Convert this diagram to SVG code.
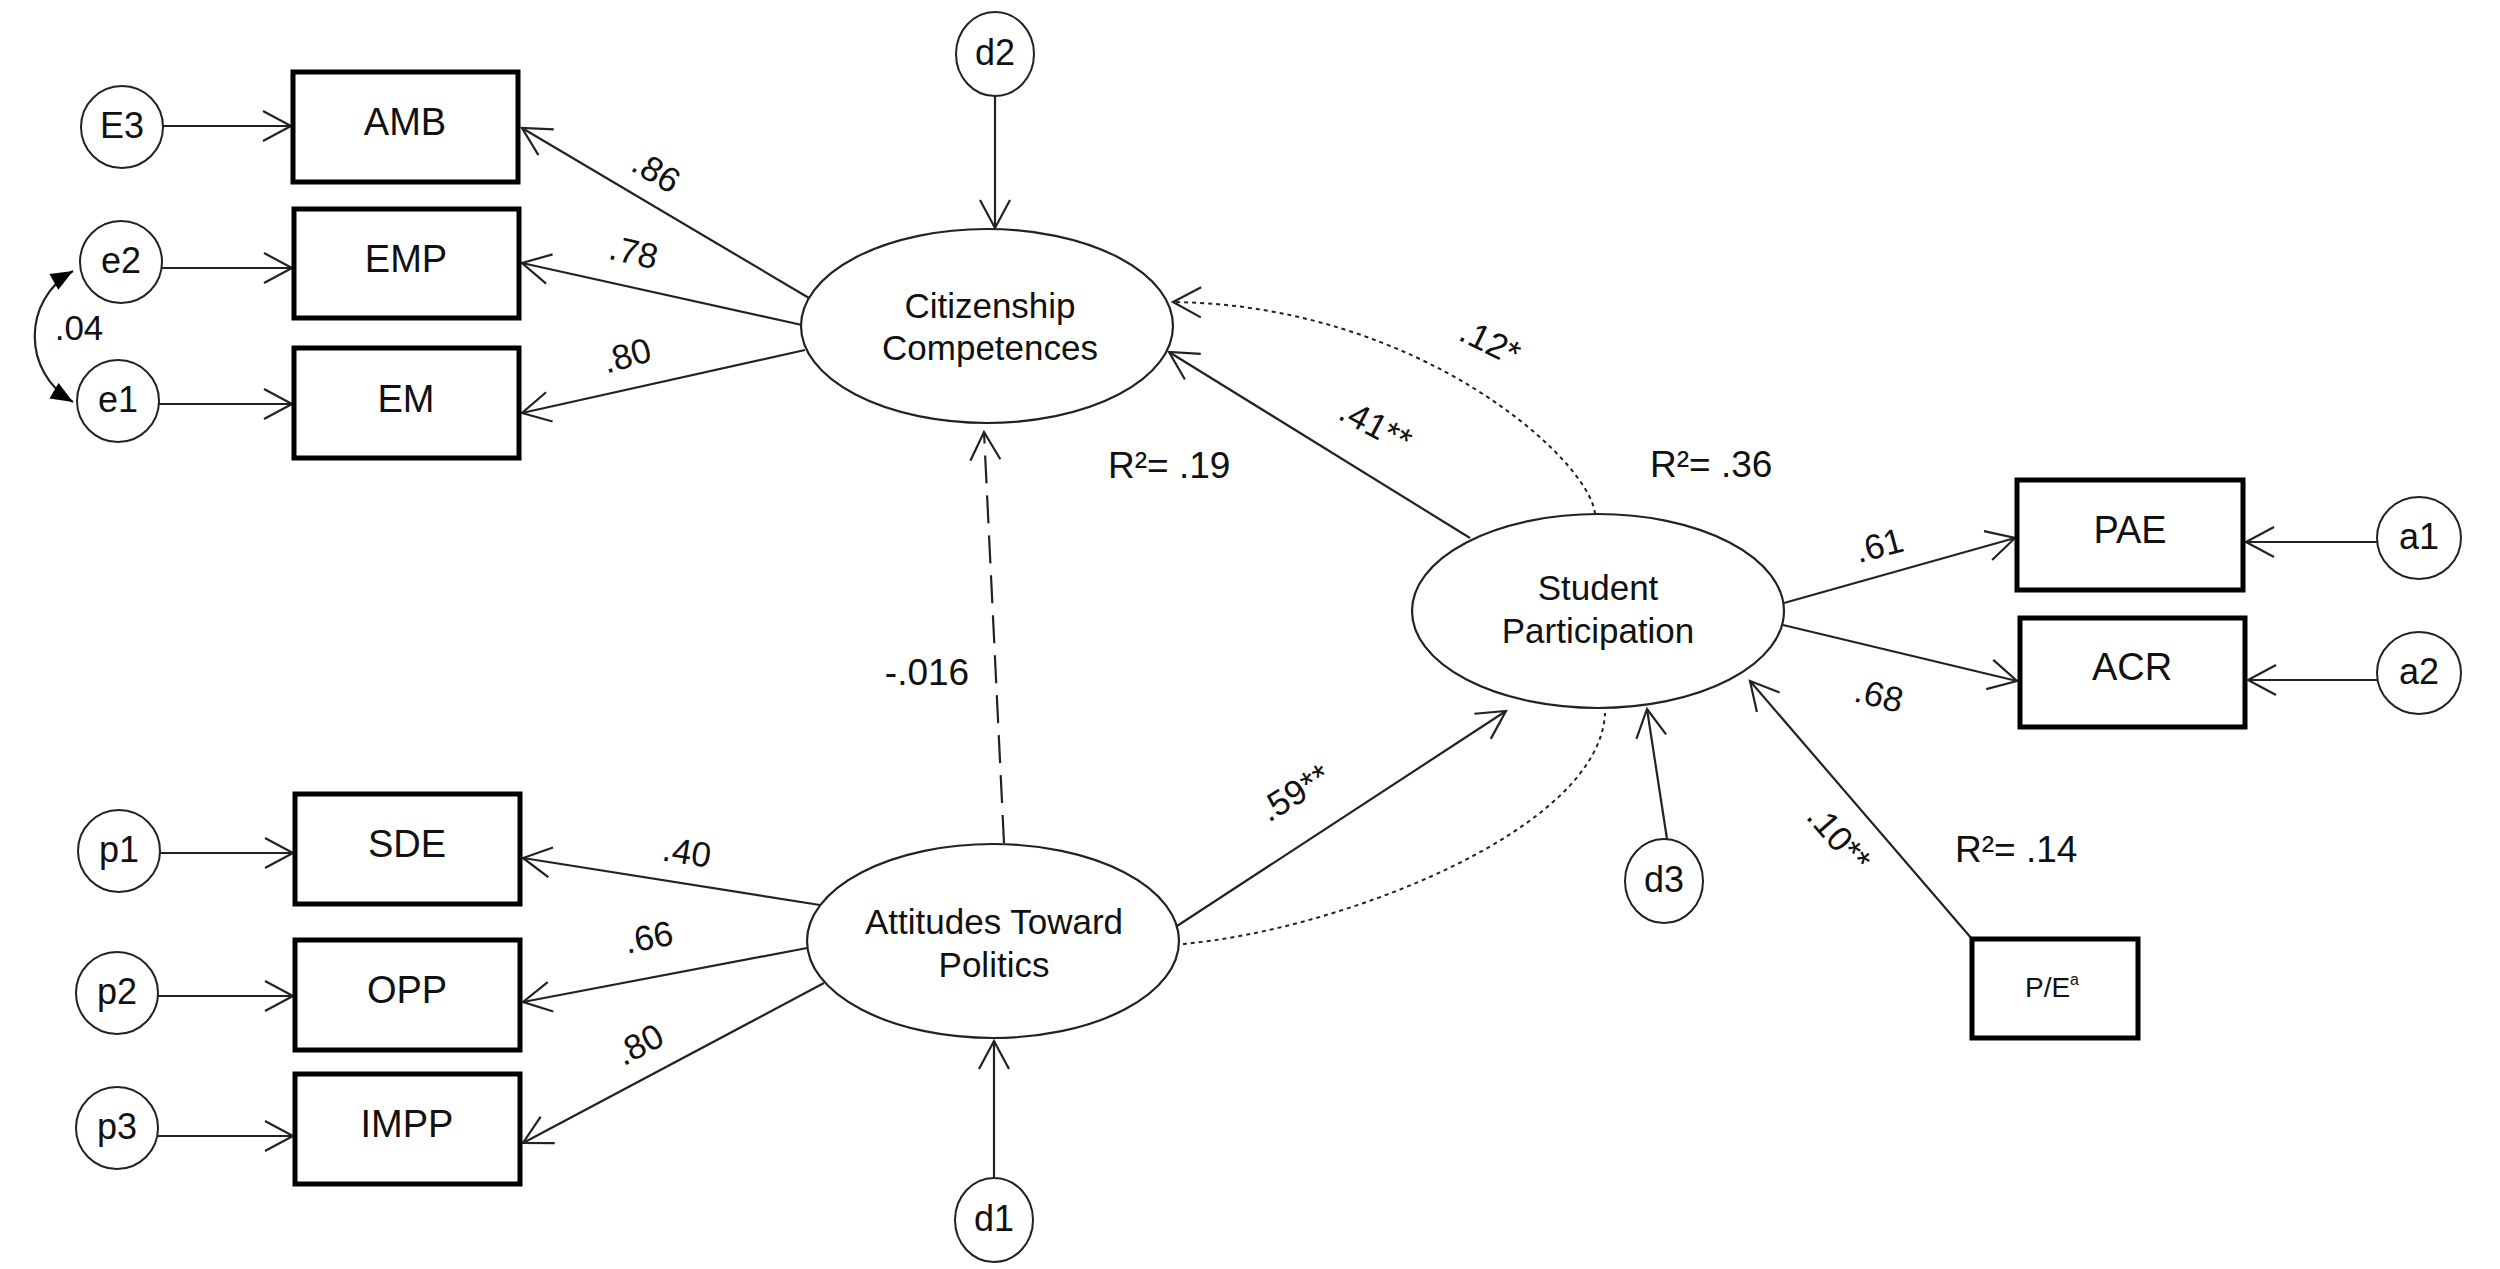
<svg xmlns="http://www.w3.org/2000/svg" width="2500" height="1269" viewBox="0 0 2500 1269">
<style>
text{font-family:"Liberation Sans",Arial,sans-serif;fill:#111;}
.box{fill:#fff;stroke:#000;stroke-width:5;}
.lat{fill:#fff;stroke:#222;stroke-width:2.2;}
.err{fill:#fff;stroke:#222;stroke-width:2;}
.lbl{font-size:38px;text-anchor:middle;}
.elbl{font-size:36px;text-anchor:middle;}
.ltxt{font-size:35px;text-anchor:middle;}
.coef{font-size:35px;text-anchor:middle;}
.r2{font-size:37px;}
.ln{fill:none;stroke:#222;stroke-width:2.2;}
.arr{marker-end:url(#open);}
.dash{stroke-dasharray:28 12;}
.dot{stroke-dasharray:4 4;stroke-width:2;}
</style>
<defs>
<marker id="open" viewBox="-34 -20 38 40" refX="0" refY="0" markerWidth="38" markerHeight="40" markerUnits="userSpaceOnUse" orient="auto">
<path d="M-28,-15 L0,0 L-28,15" fill="none" stroke="#222" stroke-width="2.2"/>
</marker>
<marker id="fill" viewBox="-26 -12 28 24" refX="0" refY="0" markerWidth="28" markerHeight="24" markerUnits="userSpaceOnUse" orient="auto-start-reverse">
<path d="M-22,-9 L0,0 L-22,9 Z" fill="#000"/>
</marker>
</defs>
<rect width="2500" height="1269" fill="#fff"/>

<g id="connectors">
<path class="ln arr" d="M163,126 L291,126"/>
<path class="ln arr" d="M162,268 L292,268"/>
<path class="ln arr" d="M159,404 L292,404"/>
<path class="ln arr" d="M160,853 L293,853"/>
<path class="ln arr" d="M158,996 L293,996"/>
<path class="ln arr" d="M158,1136 L293,1136"/>
<path class="ln arr" d="M2377,542 L2246,542"/>
<path class="ln arr" d="M2377,680 L2248,680"/>
<path class="ln arr" d="M995,96 L995,228"/>
<path class="ln arr" d="M994,1178 L994,1041"/>
<path class="ln arr" d="M1667,839 L1647,709"/>
<path class="ln arr" d="M809,298 L522,128"/>
<path class="ln arr" d="M802,325 L522,263"/>
<path class="ln arr" d="M805,350 L522,413"/>
<path class="ln arr" d="M820,905 L523,858"/>
<path class="ln arr" d="M807,948 L523,1002"/>
<path class="ln arr" d="M824,983 L523,1143"/>
<path class="ln arr" d="M1470,538 L1169,352"/>
<path class="ln arr dot" d="M1595,514 C1590,460 1420,305 1173,302"/>
<path class="ln arr" d="M1177,926 L1506,711"/>
<path class="ln dot" d="M1183,944 C1340,930 1600,830 1605,713"/>
<path class="ln arr" d="M1784,603 L2015,538"/>
<path class="ln arr" d="M1783,625 L2017,681"/>
<path class="ln arr" d="M1972,939 L1750,681"/>
<path class="ln arr dash" d="M1004,843 L984,432"/>
<path class="ln" d="M73,271 C22,300 22,372 73,402" marker-start="url(#fill)" marker-end="url(#fill)"/>
</g>

<g id="labels">
<text class="coef" transform="translate(650,182) rotate(31)">.86</text>
<text class="coef" transform="translate(631,264) rotate(13)">.78</text>
<text class="coef" transform="translate(630,367) rotate(-16)">.80</text>
<text class="coef" transform="translate(685,864) rotate(9)">.40</text>
<text class="coef" transform="translate(651,949) rotate(-11)">.66</text>
<text class="coef" transform="translate(645,1055) rotate(-28)">.80</text>
<text class="coef" transform="translate(1301,803) rotate(-32)">.59**</text>
<text class="coef" transform="translate(1370,436) rotate(28)">.41**</text>
<text class="coef" transform="translate(1485,353) rotate(26)">.12*</text>
<text class="coef" transform="translate(1882,557) rotate(-15)">.61</text>
<text class="coef" transform="translate(1876,707) rotate(14)">.68</text>
<text class="coef" transform="translate(1830,846) rotate(49)">.10**</text>
<text class="coef" x="79" y="340">.04</text>
<text class="r2" x="927" y="685" text-anchor="middle">-.016</text>
<text class="r2" x="1108" y="478">R²= .19</text>
<text class="r2" x="1650" y="477">R²= .36</text>
<text class="r2" x="1955" y="862">R²= .14</text>
</g>

<g id="node-E3"><circle class="err" cx="122" cy="127" r="41"/><text class="elbl" x="122" y="138">E3</text></g>
<g id="node-e2"><circle class="err" cx="121" cy="262" r="41"/><text class="elbl" x="121" y="273">e2</text></g>
<g id="node-e1"><circle class="err" cx="118" cy="401" r="41"/><text class="elbl" x="118" y="412">e1</text></g>
<g id="node-p1"><circle class="err" cx="119" cy="851" r="41"/><text class="elbl" x="119" y="862">p1</text></g>
<g id="node-p2"><circle class="err" cx="117" cy="993" r="41"/><text class="elbl" x="117" y="1004">p2</text></g>
<g id="node-p3"><circle class="err" cx="117" cy="1128" r="41"/><text class="elbl" x="117" y="1139">p3</text></g>
<g id="node-d2"><ellipse class="err" cx="995" cy="54" rx="39" ry="42"/><text class="elbl" x="995" y="65">d2</text></g>
<g id="node-d1"><ellipse class="err" cx="994" cy="1220" rx="39" ry="42"/><text class="elbl" x="994" y="1231">d1</text></g>
<g id="node-d3"><ellipse class="err" cx="1664" cy="881" rx="39" ry="42"/><text class="elbl" x="1664" y="892">d3</text></g>
<g id="node-a1"><ellipse class="err" cx="2419" cy="538" rx="42" ry="41"/><text class="elbl" x="2419" y="549">a1</text></g>
<g id="node-a2"><ellipse class="err" cx="2419" cy="673" rx="42" ry="41"/><text class="elbl" x="2419" y="684">a2</text></g>

<g id="node-AMB"><rect class="box" x="293" y="72" width="225" height="110"/><text class="lbl" x="405" y="135">AMB</text></g>
<g id="node-EMP"><rect class="box" x="294" y="209" width="225" height="109"/><text class="lbl" x="406" y="272">EMP</text></g>
<g id="node-EM"><rect class="box" x="294" y="348" width="225" height="110"/><text class="lbl" x="406" y="412">EM</text></g>
<g id="node-SDE"><rect class="box" x="295" y="794" width="225" height="110"/><text class="lbl" x="407" y="857">SDE</text></g>
<g id="node-OPP"><rect class="box" x="295" y="940" width="225" height="110"/><text class="lbl" x="407" y="1003">OPP</text></g>
<g id="node-IMPP"><rect class="box" x="295" y="1074" width="225" height="110"/><text class="lbl" x="407" y="1137">IMPP</text></g>
<g id="node-PAE"><rect class="box" x="2017" y="480" width="226" height="110"/><text class="lbl" x="2130" y="543">PAE</text></g>
<g id="node-ACR"><rect class="box" x="2020" y="618" width="225" height="109"/><text class="lbl" x="2132" y="680">ACR</text></g>
<g id="node-PE"><rect class="box" x="1972" y="939" width="166" height="99"/><text x="2052" y="997" font-size="28" text-anchor="middle">P/E<tspan font-size="16" dy="-12">a</tspan></text></g>

<g id="node-CC"><ellipse class="lat" cx="987" cy="326" rx="186" ry="97"/><text class="ltxt" x="990" y="318">Citizenship</text><text class="ltxt" x="990" y="360">Competences</text></g>
<g id="node-AT"><ellipse class="lat" cx="993" cy="941" rx="186" ry="97"/><text class="ltxt" x="994" y="934">Attitudes Toward</text><text class="ltxt" x="994" y="977">Politics</text></g>
<g id="node-SP"><ellipse class="lat" cx="1598" cy="611" rx="186" ry="97"/><text class="ltxt" x="1598" y="600">Student</text><text class="ltxt" x="1598" y="643">Participation</text></g>
</svg>
